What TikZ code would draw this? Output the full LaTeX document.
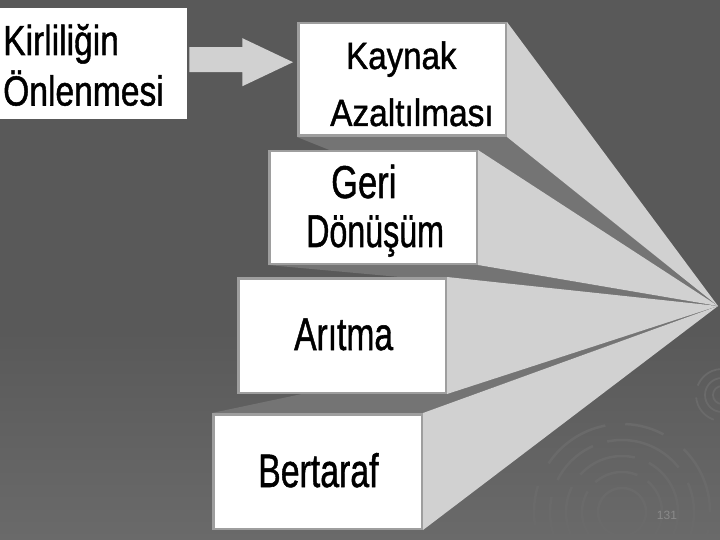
\documentclass[tikz,border=0pt]{standalone}
\usepackage{graphicx}
\usepackage{fontspec}
\setmainfont{Liberation Sans}
\newfontfamily\heavyfont{Liberation Sans}[FakeBold=1.2]
\usetikzlibrary{calc}
\definecolor{bgtop}{HTML}{595959}
\definecolor{bgbot}{HTML}{6A6A6A}
\definecolor{facelight}{HTML}{D1D1D1}
\definecolor{facedark}{HTML}{747474}
\definecolor{rimgray}{HTML}{9E9E9E}
\definecolor{ringgray}{HTML}{6A6A6A}
\definecolor{pagegray}{HTML}{8A8A8A}
\newcommand\mytxt[3]{\scalebox{#2}[1]{\heavyfont\fontsize{#1}{#1}\selectfont #3}}
\tikzset{
  stepbox/.style={draw=rimgray, line width=2.5pt, fill=white, inner sep=0pt, minimum width=207.5pt},
  plainbox/.style={fill=white, inner sep=0pt},
  lbl/.style={inner sep=0pt, anchor=base west, text=black},
  ringline/.style={draw=ringgray, line width=2.5pt},
  darkface/.style={fill=facedark},
  lightface/.style={fill=facelight},
  arrowshape/.style={fill=facelight}
}
\begin{document}
\begin{tikzpicture}[x=1pt,y=-1pt]
\clip (0,0) rectangle (720,540);
% background
\fill[bgtop] (0,0) rectangle (720,540);
\shade[top color=bgtop, bottom color=bgbot] (0,330) rectangle (720,540);
% decorative rings
\coordinate (rc1) at (622,512);
\coordinate (rc2) at (722,395);
\draw[ringline, dash pattern=on 70pt off 25pt on 40pt off 20pt] (rc1) circle[radius=88pt];
\draw[ringline, dash pattern=on 50pt off 18pt on 80pt off 15pt, dash phase=20pt] (rc1) circle[radius=72pt];
\draw[ringline, dash pattern=on 60pt off 15pt] (rc1) circle[radius=56pt];
\draw[ringline, dash pattern=on 45pt off 12pt, dash phase=10pt] (rc1) circle[radius=40pt];
\draw[ringline] (rc1) circle[radius=24pt];
\draw[ringline, line width=1.8pt, dash pattern=on 30pt off 12pt] (rc2) circle[radius=26pt];
\draw[ringline, line width=1.8pt] (rc2) circle[radius=17pt];
\draw[ringline, line width=1.8pt] (rc2) circle[radius=9pt];
% boxes (nodes)
\node[plainbox, anchor=north west, minimum width=187pt, minimum height=111pt] (kirl) at (0,8) {};
\node[stepbox, minimum height=112.5pt] (kaynak) at (402,79.5) {};
\node[stepbox, minimum height=112.5pt] (geri) at (373,207.5) {};
\node[stepbox, minimum height=114.5pt] (aritma) at (342,335.5) {};
\node[stepbox, minimum width=208.5pt, minimum height=114.5pt] (bert) at (317.5,471.5) {};
\coordinate (apex) at (718,306);
% faces
\fill[darkface] (kaynak.south west) -- (kaynak.south east) -- (apex) -- cycle;
\fill[darkface] (geri.south west) -- (geri.south east) -- (apex) -- cycle;
\fill[darkface] (bert.north west) -- (bert.north east) -- (apex) -- cycle;
\fill[lightface] (kaynak.north east) -- (kaynak.south east) -- (apex) -- cycle;
\fill[lightface] (geri.north east) -- (geri.south east) -- (apex) -- cycle;
\fill[lightface] (aritma.north east) -- (aritma.south east) -- (apex) -- cycle;
\fill[lightface] (bert.north east) -- (bert.south east) -- (apex) -- cycle;
% redraw boxes on top of faces
\node[plainbox, anchor=north west, minimum width=187pt, minimum height=111pt] at (0,8) {};
\node[stepbox, minimum height=112.5pt] at (402,79.5) {};
\node[stepbox, minimum height=112.5pt] at (373,207.5) {};
\node[stepbox, minimum height=114.5pt] at (342,335.5) {};
\node[stepbox, minimum width=208.5pt, minimum height=114.5pt] at (317.5,471.5) {};
% arrow from Kirliligin to Kaynak
\coordinate (tip) at ($(kaynak.west |- kirl.east)+(-4,-1.5)$);
\fill[arrowshape] ($(kirl.east)+(2,-16.5)$) -- ($(kirl.east)+(55,-16.5)$) -- ($(kirl.east)+(55,-25.5)$)
  -- (tip) -- ($(kirl.east)+(55,22.5)$) -- ($(kirl.east)+(55,8.5)$) -- ($(kirl.east)+(2,8.5)$) -- cycle;
% labels
\node[lbl] (t1) at (3,55) {\mytxt{42}{0.8}{Kirliliğin}};
\node[lbl] (t2) at (3,105.5) {\mytxt{42}{0.8}{Önlenmesi}};
\node[lbl] (t3) at (346,69) {\mytxt{38}{0.87}{Kaynak}};
\node[lbl] (t4) at (330,126) {\mytxt{38}{0.88}{Azaltılması}};
\node[lbl] (t5) at (331,198) {\mytxt{46}{0.75}{Geri}};
\node[lbl] (t6) at (306,247) {\mytxt{46}{0.70}{Dönüşüm}};
\node[lbl] (t7) at (294,350) {\mytxt{46}{0.73}{Arıtma}};
\node[lbl] (t8) at (258,487) {\mytxt{47}{0.72}{Bertaraf}};
\node[inner sep=0pt, text=pagegray, font=\fontsize{12}{12}\selectfont] (pg) at (667,515) {131};
\end{tikzpicture}
\end{document}
